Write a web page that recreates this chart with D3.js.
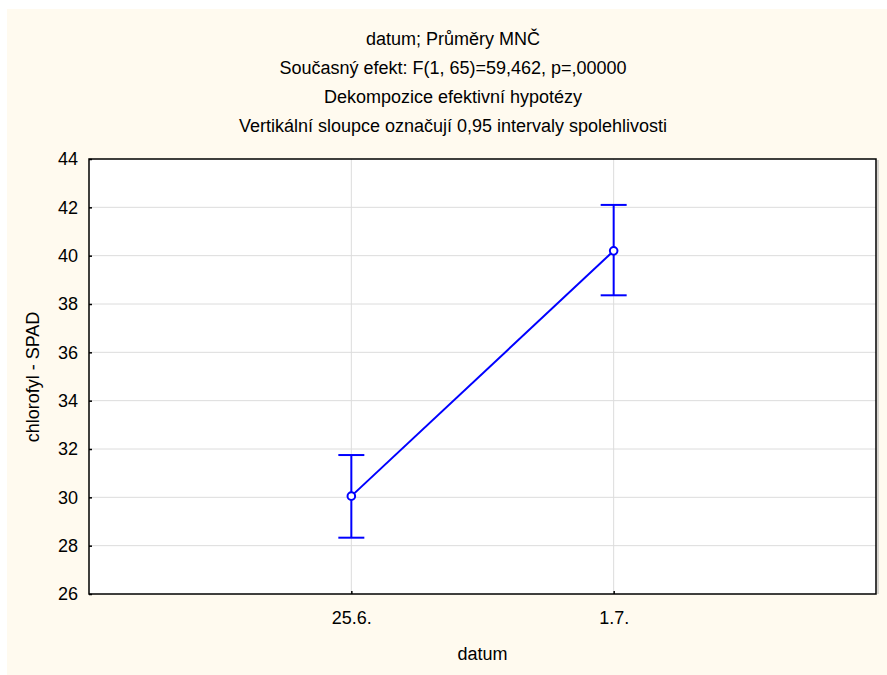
<!DOCTYPE html>
<html>
<head>
<meta charset="utf-8">
<script src="https://cdn.jsdelivr.net/npm/d3@7"></script>
<style>
  body { margin: 0; background: #ffffff; }
  text { font-family: "Liberation Sans", Arial, sans-serif; fill: #000; }
</style>
</head>
<body>
<script>
// data
let categories = ["25.6.", "1.7."]
let means = [30.05, 40.2]
let ciLower = [28.33, 38.36]
let ciUpper = [31.75, 42.1]
let yTickValues = [26, 28, 30, 32, 34, 36, 38, 40, 42, 44]
let titleLines = [
    "datum; Průměry MNČ",
    "Současný efekt: F(1, 65)=59,462, p=,00000",
    "Dekompozice efektivní hypotézy",
    "Vertikální sloupce označují 0,95 intervaly spolehlivosti"
]

let width = 887
let height = 675
let fontSize = "18px"
let plot = {left: 89, right: 876, top: 159, bottom: 594}

let svg = d3.select("body")
    .append("svg")
    .attr("width", width)
    .attr("height", height)

// cream panel
svg.append("rect")
    .attr("x", 7).attr("y", 9)
    .attr("width", width - 7).attr("height", height - 9)
    .attr("fill", "#fffaef")

// plot background
svg.append("rect")
    .attr("x", plot.left).attr("y", plot.top)
    .attr("width", plot.right - plot.left).attr("height", plot.bottom - plot.top)
    .attr("fill", "#ffffff")

let xScale = d3.scalePoint()
    .domain(categories)
    .range([plot.left, plot.right])
    .padding(1)

let yScale = d3.scaleLinear()
    .domain([26, 44])
    .range([plot.bottom, plot.top])

// grid
svg.append("g")
    .selectAll("line")
    .data(yTickValues.slice(1, -1))
    .enter()
    .append("line")
    .attr("x1", plot.left).attr("x2", plot.right)
    .attr("y1", d => yScale(d)).attr("y2", d => yScale(d))
    .attr("stroke", "#dcdcdc")
    .attr("stroke-width", 1)

svg.append("g")
    .selectAll("line")
    .data(categories)
    .enter()
    .append("line")
    .attr("x1", d => xScale(d)).attr("x2", d => xScale(d))
    .attr("y1", plot.top).attr("y2", plot.bottom)
    .attr("stroke", "#dcdcdc")
    .attr("stroke-width", 1)

// axes
let yAxis = d3.axisLeft(yScale)
    .tickValues(yTickValues)
    .tickSizeInner(-3)
    .tickSizeOuter(0)
    .tickPadding(11)
    .tickFormat(d3.format("d"))

let xAxis = d3.axisBottom(xScale)
    .tickSizeInner(-3)
    .tickSizeOuter(0)
    .tickPadding(17)

let gy = svg.append("g")
    .attr("transform", "translate(" + plot.left + ",0)")
    .call(yAxis)
let gx = svg.append("g")
    .attr("transform", "translate(0," + plot.bottom + ")")
    .call(xAxis)

;[gx, gy].forEach(g => {
    g.select(".domain").remove()
    g.selectAll("line").attr("stroke", "#000").attr("stroke-width", 1.5)
    g.selectAll("text")
        .style("font-size", fontSize)
        .style("font-family", "'Liberation Sans', Arial, sans-serif")
        .attr("fill", "#000")
})

// frame
svg.append("line")
    .attr("x1", plot.right + 2).attr("x2", plot.right + 2)
    .attr("y1", plot.top + 1).attr("y2", plot.bottom)
    .attr("stroke", "#b0b0b0").attr("stroke-width", 1)
svg.append("rect")
    .attr("x", plot.left).attr("y", plot.top)
    .attr("width", plot.right - plot.left).attr("height", plot.bottom - plot.top)
    .attr("fill", "none")
    .attr("stroke", "#000")
    .attr("stroke-width", 1.5)

// error bars
let capHalf = 13
let eb = svg.append("g")
    .selectAll(".eb")
    .data(categories)
    .enter()
    .append("g")
    .attr("class", "eb")
    .attr("stroke", "#0000ff")
    .attr("stroke-width", 2)

eb.append("line")
    .attr("x1", d => xScale(d)).attr("x2", d => xScale(d))
    .attr("y1", (d, i) => yScale(ciLower[i])).attr("y2", (d, i) => yScale(ciUpper[i]))
eb.append("line")
    .attr("x1", d => xScale(d) - capHalf).attr("x2", d => xScale(d) + capHalf)
    .attr("y1", (d, i) => yScale(ciUpper[i])).attr("y2", (d, i) => yScale(ciUpper[i]))
eb.append("line")
    .attr("x1", d => xScale(d) - capHalf).attr("x2", d => xScale(d) + capHalf)
    .attr("y1", (d, i) => yScale(ciLower[i])).attr("y2", (d, i) => yScale(ciLower[i]))

// mean line
let line = d3.line()
    .x((d, i) => xScale(categories[i]))
    .y(d => yScale(d))

svg.append("path")
    .datum(means)
    .attr("d", line)
    .attr("fill", "none")
    .attr("stroke", "#0000ff")
    .attr("stroke-width", 2)

svg.append("g")
    .selectAll("circle")
    .data(means)
    .enter()
    .append("circle")
    .attr("cx", (d, i) => xScale(categories[i]))
    .attr("cy", d => yScale(d))
    .attr("r", 3.8)
    .attr("fill", "#ffffff")
    .attr("stroke", "#0000ff")
    .attr("stroke-width", 2)

// titles
svg.append("g")
    .selectAll("text")
    .data(titleLines)
    .enter()
    .append("text")
    .attr("x", 453)
    .attr("y", (d, i) => 44.5 + i * 29.3)
    .attr("text-anchor", "middle")
    .style("font-size", fontSize)
    .text(d => d)

// axis titles
svg.append("text")
    .attr("x", (plot.left + plot.right) / 2)
    .attr("y", 659.5)
    .attr("text-anchor", "middle")
    .style("font-size", fontSize)
    .text("datum")

svg.append("text")
    .attr("transform", "translate(39,377) rotate(-90)")
    .attr("text-anchor", "middle")
    .style("font-size", fontSize)
    .text("chlorofyl - SPAD")
</script>
</body>
</html>
